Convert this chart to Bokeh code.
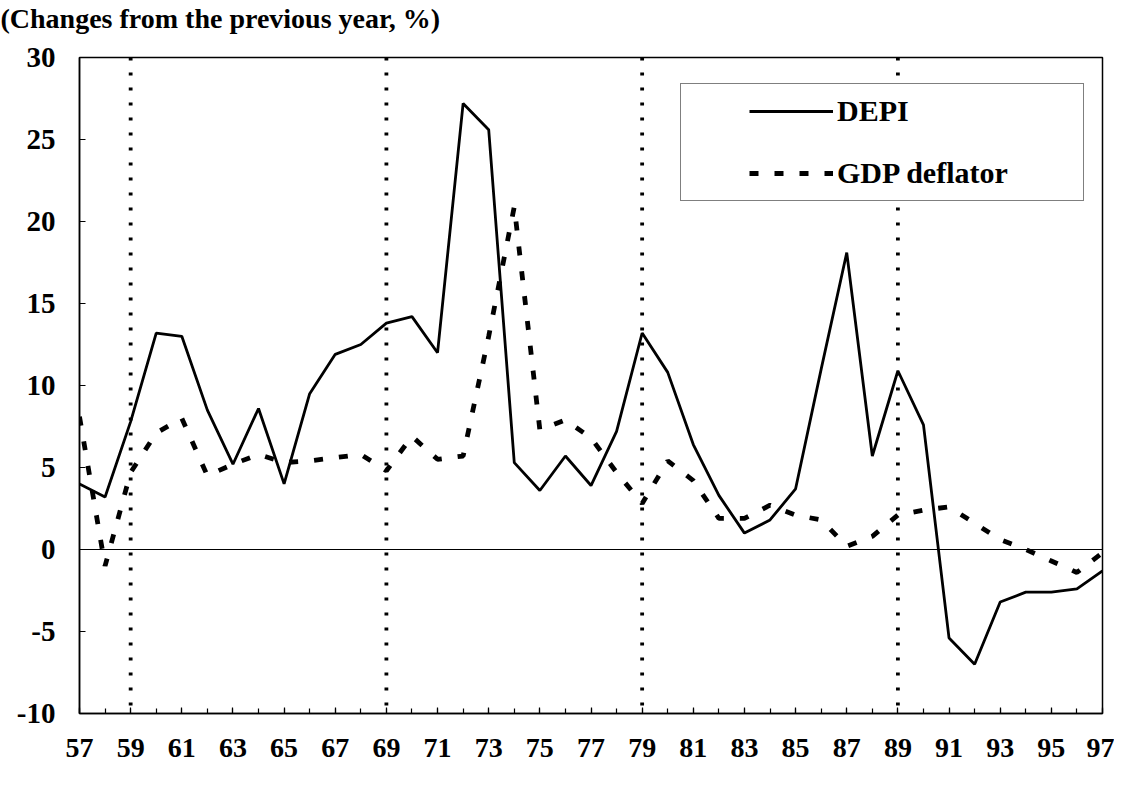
from bokeh.plotting import figure
from bokeh.models import FixedTicker, Span, Legend, LegendItem, Title
from bokeh.embed import file_html
from bokeh.resources import INLINE

# ---------------- data ----------------
years = list(range(57, 98))
depi = [4.0, 3.2, 7.8, 13.2, 13.0, 8.5, 5.2, 8.6, 4.0, 9.5,
        11.9, 12.5, 13.8, 14.2, 12.0, 27.2, 25.6, 5.3, 3.6, 5.7,
        3.9, 7.2, 13.2, 10.8, 6.4, 3.3, 1.0, 1.8, 3.7, 11.0,
        18.1, 5.7, 10.9, 7.6, -5.4, -7.0, -3.2, -2.6, -2.6, -2.4,
        -1.3]
gdp_deflator = [8.1, -1.0, 4.7, 7.1, 8.0, 4.5, 5.2, 5.8, 5.3, 5.4,
                5.6, 5.8, 4.8, 6.9, 5.5, 5.7, 13.0, 20.9, 7.3, 7.9,
                6.8, 4.7, 2.8, 5.4, 4.2, 1.9, 1.9, 2.7, 2.1, 1.8,
                0.2, 0.8, 2.1, 2.4, 2.6, 1.6, 0.6, 0.0, -0.7, -1.4,
                -0.2]
marked_years = [59, 69, 79, 89]
x_label_years = list(range(57, 98, 2))
y_ticks = [-10, -5, 0, 5, 10, 15, 20, 25, 30]
y_tick_labels = {t: str(t) for t in y_ticks}
series_names = ["DEPI", "GDP deflator"]
title_text = "(Changes from the previous year, %)"

FONT = "Liberation Serif"

p = figure(width=1114, height=770, output_backend="svg", toolbar_location=None,
           x_range=(min(years), max(years)), y_range=(min(y_ticks), max(y_ticks)),
           min_border_left=79, min_border_right=12, min_border_top=57,
           min_border_bottom=57)

# invisible spacer between the title and the frame, so the title sits at the top
spacer = Title(text="\u00a0", text_font_size="1px", standoff=21)
p.add_layout(spacer, "above")

# title
p.title.text = title_text
p.title.text_font = FONT
p.title.text_font_size = "28px"
p.title.text_font_style = "bold"
p.title.text_color = "black"
p.title.align = "left"
p.title.offset = -79
p.title.standoff = 0

p.grid.visible = False
p.background_fill_color = "white"
p.border_fill_color = "white"
p.outline_line_color = "black"
p.outline_line_width = 1.5

# x axis
xa = p.xaxis[0]
xa.ticker = FixedTicker(ticks=x_label_years, minor_ticks=years)
xa.major_tick_in = 6
xa.major_tick_out = 0
xa.minor_tick_in = 5
xa.minor_tick_out = 0
xa.major_tick_line_width = 1.2
xa.minor_tick_line_width = 1.2
xa.axis_line_width = 1.5
xa.major_label_standoff = 25
xa.major_label_text_font = FONT
xa.major_label_text_font_size = "28px"
xa.major_label_text_font_style = "bold"
xa.major_label_text_color = "black"

# y axis
ya = p.yaxis[0]
ya.ticker = FixedTicker(ticks=y_ticks, minor_ticks=[])
ya.major_label_overrides = y_tick_labels
ya.major_tick_in = 6
ya.major_tick_out = 0
ya.minor_tick_in = 0
ya.minor_tick_out = 0
ya.major_tick_line_width = 1.2
ya.axis_line_width = 1.5
ya.major_label_standoff = 24
ya.major_label_text_font = FONT
ya.major_label_text_font_size = "29px"
ya.major_label_text_font_style = "bold"
ya.major_label_text_color = "black"

# zero line
p.add_layout(Span(location=0, dimension="width", line_color="black", line_width=1.2))

# vertical dotted markers
for yr in marked_years:
    p.add_layout(Span(location=yr, dimension="height", line_color="black",
                      line_width=3.8, line_dash="3 12"))

r1 = p.line(years, depi, line_color="black", line_width=2.8)
r2 = p.line(years, gdp_deflator, line_color="black", line_width=4.8, line_dash="9 16")

legend = Legend(items=[LegendItem(label=series_names[0], renderers=[r1]),
                       LegendItem(label=series_names[1], renderers=[r2])],
                location=(601, 512))
legend.title = "\u00a0"
legend.title_location = "left"
legend.title_text_font_size = "30px"
legend.title_standoff = 24
legend.border_line_color = "black"
legend.border_line_width = 1.5
legend.background_fill_color = "white"
legend.background_fill_alpha = 1
legend.padding = 10
legend.spacing = 28
legend.margin = 0
legend.glyph_width = 84
legend.glyph_height = 30
legend.label_height = 33
legend.label_width = 236
legend.label_standoff = 4
legend.label_text_font = FONT
legend.label_text_font_size = "30px"
legend.label_text_font_style = "bold"
legend.label_text_color = "black"
p.add_layout(legend)

open("out.html", "w").write(file_html(p, INLINE))
